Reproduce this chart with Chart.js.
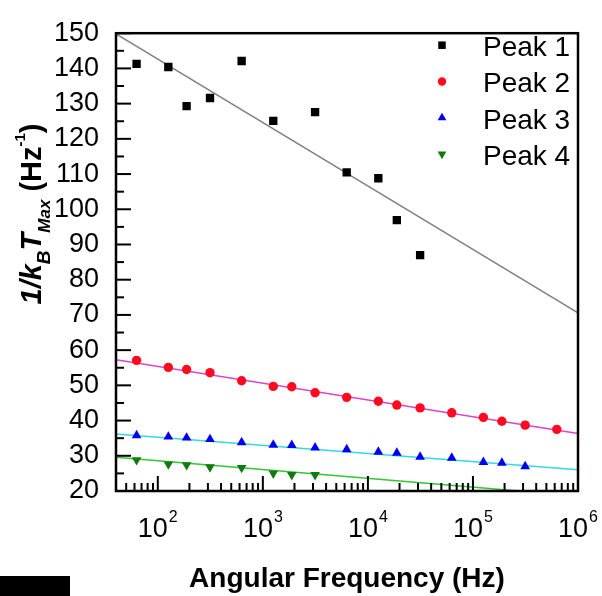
<!DOCTYPE html>
<html>
<head>
<meta charset="utf-8">
<script src="https://cdn.jsdelivr.net/npm/chart.js"></script>
<style>
  body { margin: 0; background: #fff; }
  #wrap { position: relative; width: 602px; height: 596px; }
  #blk { position: absolute; left: 0; top: 576px; width: 70px; height: 20px; background: #000; }
</style>
</head>
<body>
<div id="wrap"><canvas id="chart"></canvas><div id="blk"></div></div>
<script>
// angular frequency (Hz) and 1/kB*Tmax values
const freqP1 = [62.8, 126, 188, 314, 628, 1257, 3142, 6283, 12566, 18850, 31416];
const valP1 = [141.3, 140.4, 129.3, 131.6, 142.1, 125.1, 127.6, 110.5, 108.8, 96.9, 87.0];

const freqP2 = [62.8, 126, 188, 314, 628, 1257, 1885, 3142, 6283, 12566, 18850, 31416, 62832, 125664, 188496, 314159, 628319];
const valP2 = [57.1, 55.1, 54.5, 53.6, 51.3, 49.7, 49.6, 47.9, 46.6, 45.5, 44.4, 43.6, 42.2, 40.9, 39.8, 38.7, 37.5];

const freqP3 = [62.8, 126, 188, 314, 628, 1257, 1885, 3142, 6283, 12566, 18850, 31416, 62832, 125664, 188496, 314159];
const valP3 = [35.8, 35.4, 35.1, 34.7, 33.8, 33.1, 33.0, 32.3, 31.8, 31.1, 30.8, 29.7, 29.4, 28.2, 28.0, 27.0];

const freqP4 = [62.8, 126, 188, 314, 628, 1257, 1885, 3142];
const valP4 = [28.8, 27.6, 27.4, 26.8, 26.6, 25.0, 24.6, 24.6];

// linear fits (in log x), end points
const fitX = [40, 1000000];
const fitP1 = [149.8, 70.6];
const fitP2 = [57.3, 36.3];
const fitP3 = [36.2, 26.0];
const fitP4 = [29.6, 18.6];

const legendLabels = ['Peak 1', 'Peak 2', 'Peak 3', 'Peak 4'];
const xTickPowers = [2, 3, 4, 5, 6];

const FONT = "Arial, 'Liberation Sans', sans-serif";

function pts(xs, ys) {
  return ys.map((y, i) => ({ x: xs[i], y: y }));
}

function pointSet(label, xs, ys, color, style, radius, rotation) {
  return {
    label: label,
    data: pts(xs, ys),
    showLine: false,
    pointStyle: style,
    pointRadius: radius,
    pointRotation: rotation || 0,
    pointBackgroundColor: color,
    pointBorderColor: color,
    pointBorderWidth: 0,
    order: 1
  };
}

function fitSet(ys, color) {
  return {
    label: 'fit',
    data: pts(fitX, ys),
    showLine: true,
    borderColor: color,
    borderWidth: 1.5,
    pointRadius: 0,
    fill: false,
    order: 2
  };
}

// frame, inward ticks, log labels, y title and legend
const decor = {
  id: 'decor',
  afterDraw(chart) {
    const { ctx, chartArea: a, scales: { x, y } } = chart;
    ctx.save();
    ctx.strokeStyle = '#000';
    ctx.lineWidth = 2;

    for (let v = 20; v <= 150; v += 5) {
      const py = y.getPixelForValue(v);
      const len = v % 10 === 0 ? 15 : 8;
      ctx.beginPath();
      ctx.moveTo(a.left, py);
      ctx.lineTo(a.left + len, py);
      ctx.stroke();
    }

    for (let e = 1; e <= 6; e++) {
      for (let m = 1; m <= 9; m++) {
        const v = m * Math.pow(10, e);
        if (v < x.min || v > x.max) continue;
        const px = x.getPixelForValue(v);
        const len = m === 1 ? 15 : 8;
        ctx.beginPath();
        ctx.moveTo(px, a.bottom);
        ctx.lineTo(px, a.bottom - len);
        ctx.stroke();
      }
    }

    ctx.lineWidth = 2.5;
    ctx.strokeRect(a.left, a.top, a.right - a.left, a.bottom - a.top);

    // x tick labels 10^n
    ctx.fillStyle = '#000';
    ctx.textBaseline = 'alphabetic';
    ctx.textAlign = 'left';
    xTickPowers.forEach(p => {
      const px = x.getPixelForValue(Math.pow(10, p));
      ctx.font = '27px ' + FONT;
      const w1 = ctx.measureText('10').width;
      ctx.font = '16px ' + FONT;
      const w2 = ctx.measureText(String(p)).width;
      const start = px - (w1 + 1 + w2) / 2;
      ctx.font = '27px ' + FONT;
      ctx.fillText('10', start, 537);
      ctx.font = '16px ' + FONT;
      ctx.fillText(String(p), start + w1 + 1, 522);
    });

    // y axis title with sub/superscripts
    const segs = [
      { t: '1/k', f: 'italic bold 29px ' + FONT, dy: 0 },
      { t: 'B', f: 'italic bold 19px ' + FONT, dy: 9 },
      { t: 'T', f: 'italic bold 29px ' + FONT, dy: 0 },
      { t: 'Max', f: 'italic bold 17px ' + FONT, dy: 9 },
      { t: ' (Hz', f: 'bold 29px ' + FONT, dy: 0 },
      { t: '-1', f: 'bold 15px ' + FONT, dy: -16 },
      { t: ')', f: 'bold 29px ' + FONT, dy: 0 }
    ];
    let total = 0;
    segs.forEach(s => { ctx.font = s.f; s.w = ctx.measureText(s.t).width; total += s.w; });
    ctx.save();
    ctx.translate(41, 214);
    ctx.rotate(-Math.PI / 2);
    let cx = -total / 2;
    segs.forEach(s => {
      ctx.font = s.f;
      ctx.fillText(s.t, cx, s.dy);
      cx += s.w;
    });
    ctx.restore();

    // legend inside the plot
    const h = Chart.helpers;
    legendLabels.forEach((lab, i) => {
      const ds = chart.data.datasets[i];
      const base = 56 + i * 36.3;
      const my = base - 10.8;
      ctx.fillStyle = ds.pointBackgroundColor;
      ctx.strokeStyle = ds.pointBorderColor;
      if (h && h.drawPoint) {
        h.drawPoint(ctx, {
          pointStyle: ds.pointStyle,
          radius: ds.pointRadius * 0.9,
          rotation: ds.pointRotation,
          borderWidth: 0
        }, 442, my);
      }
      ctx.fillStyle = '#000';
      ctx.font = '28px ' + FONT;
      ctx.textAlign = 'left';
      ctx.fillText(lab, 483, base);
    });

    ctx.restore();
  }
};

new Chart(document.getElementById('chart'), {
  type: 'scatter',
  data: {
    datasets: [
      pointSet('Peak 1', freqP1, valP1, '#000000', 'rect', 5.9),
      pointSet('Peak 2', freqP2, valP2, '#ff0a1e', 'circle', 4.7),
      pointSet('Peak 3', freqP3, valP3, '#0000ee', 'triangle', 5.6),
      pointSet('Peak 4', freqP4, valP4, '#117a11', 'triangle', 5.6, 180),
      fitSet(fitP1, '#7f7f7f'),
      fitSet(fitP2, '#e040cc'),
      fitSet(fitP3, '#30d8e8'),
      fitSet(fitP4, '#30c830')
    ]
  },
  options: {
    responsive: true,
    maintainAspectRatio: false,
    animation: false,
    layout: { padding: { top: 30, right: 24, left: 0, bottom: 0 } },
    plugins: {
      legend: { display: false },
      tooltip: { enabled: false }
    },
    scales: {
      x: {
        type: 'logarithmic',
        min: 40,
        max: 1000000,
        grid: { display: false, drawTicks: false },
        border: { display: false },
        ticks: { display: false },
        title: {
          display: true,
          text: 'Angular Frequency (Hz)',
          color: '#000',
          font: { family: FONT, size: 28, weight: 'bold' },
          padding: { top: 0, bottom: 0 }
        },
        afterFit: s => { s.height = 105; }
      },
      y: {
        min: 20,
        max: 150,
        grid: { display: false, drawTicks: false },
        border: { display: false },
        ticks: {
          stepSize: 10,
          autoSkip: false,
          color: '#000',
          padding: 17,
          font: { family: FONT, size: 27 }
        },
        afterFit: s => { s.width = 116; }
      }
    }
  },
  plugins: [decor]
});
</script>
</body>
</html>
